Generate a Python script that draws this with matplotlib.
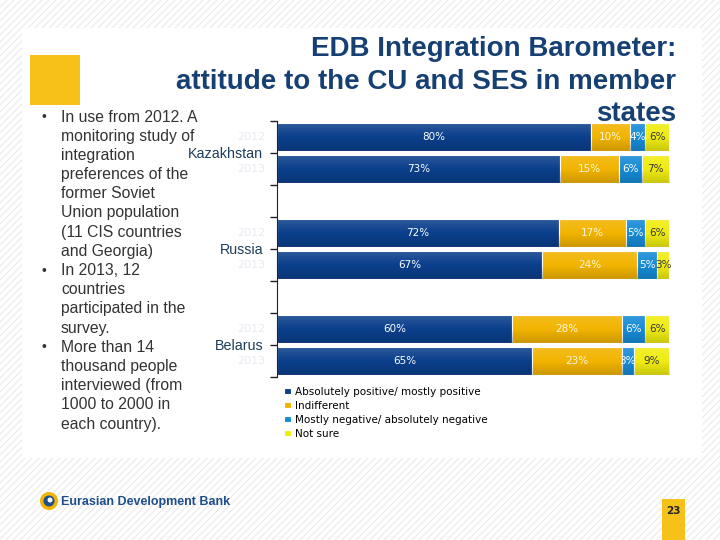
import matplotlib
matplotlib.use("Agg")
import matplotlib.pyplot as plt
from matplotlib.patches import Rectangle, Circle
import numpy as np

# ---- data ----
countries = ["Kazakhstan", "Russia", "Belarus"]
years = ["2012", "2013"]
positive = [80, 73, 72, 67, 60, 65]
indifferent = [10, 15, 17, 24, 28, 23]
negative = [4, 6, 5, 5, 6, 3]
not_sure = [6, 7, 6, 3, 6, 9]
series_names = ["Absolutely positive/ mostly positive", "Indifferent",
                "Mostly negative/ absolutely negative", "Not sure"]
title_lines = ["EDB Integration Barometer:", "attitude to the CU and SES in member", "states"]
bullets = [
    ["In use from 2012. A", "monitoring study of", "integration", "preferences of the",
     "former Soviet", "Union population", "(11 CIS countries", "and Georgia)"],
    ["In 2013, 12", "countries", "participated in the", "survey."],
    ["More than 14", "thousand people", "interviewed (from", "1000 to 2000 in",
     "each country)."],
]

colors = ["#0b3f8c", "#f2b400", "#168bd6", "#f0ec10"]
label_colors = ["white", "#fff6d8", "white", "#333333"]

W, H = 720, 540
fig = plt.figure(figsize=(7.2, 5.4), dpi=100)

# ---- background (hatched page + white panel) ----
bg = fig.add_axes([0, 0, 1, 1], zorder=0)
bg.set_xlim(0, W)
bg.set_ylim(H, 0)
bg.axis("off")
for c in np.arange(-H, W + H, 7):
    bg.plot([c, c + H], [H, 0], color="#e9e9ee", lw=0.8, zorder=0)
bg.add_patch(Rectangle((22, 28), 680, 430, facecolor="white", edgecolor="none", zorder=1))
bg.add_patch(Rectangle((30, 55), 50, 50, facecolor="#f6c21a", edgecolor="none", zorder=2))

# title (one text per line)
for ty, line in zip([56, 89, 121], title_lines):
    bg.text(676, ty, line, ha="right", va="baseline", fontsize=20,
            fontweight="bold", color="#163f73", family="Liberation Sans", zorder=5)

# bullet text
y = 117
for block in bullets:
    bg.text(41, y, "•", ha="left", va="center", fontsize=10, color="#333333",
            family="Liberation Sans", zorder=5)
    for line in block:
        bg.text(61, y, line, ha="left", va="center", fontsize=11.3,
                color="#333333", family="Liberation Sans", zorder=5)
        y += 19.2

# footer logo
bg.add_patch(Circle((49, 501), 9, facecolor="#f2b400", edgecolor="none", zorder=3))
bg.add_patch(Circle((49, 501), 5.5, facecolor="#1f4e8c", edgecolor="none", zorder=4))
bg.add_patch(Circle((50, 500), 2.5, facecolor="white", edgecolor="none", zorder=4))
bg.text(61, 502, "Eurasian Development Bank", ha="left", va="center", fontsize=9,
        fontweight="bold", color="#1f4e8c", family="Liberation Sans", zorder=5)
bg.add_patch(Rectangle((662, 499), 23, 41, facecolor="#f6c21a", edgecolor="none", zorder=3))
bg.text(673.5, 511, "23", ha="center", va="center", fontsize=7.5, fontweight="bold",
        color="#222222", zorder=5)

# ---- chart ----
left, right, top, bottom = 277, 669, 121, 377
ax = fig.add_axes([left / W, 1 - bottom / H, (right - left) / W, (bottom - top) / H],
                  zorder=2)
ax.patch.set_alpha(0)

rows = [0.5, 1.5, 3.5, 4.5, 6.5, 7.5]
data = np.array([positive, indifferent, negative, not_sure], dtype=float)
totals = data.sum(axis=0)
shares = data / totals * 100

# vertical shading overlay (light top, darker bottom)
grad = np.zeros((64, 1, 4))
t = np.linspace(0, 1, 64)
grad[:, 0, :3] = np.where(t[:, None] < 0.5, 1.0, 0.0)
grad[:, 0, 3] = np.where(t < 0.5, 0.14 * (1 - t / 0.5), 0.16 * (t - 0.5) / 0.5)

lefts = np.zeros(len(rows))
for i in range(4):
    bars = ax.barh(rows, shares[i], left=lefts, height=0.875, color=colors[i],
                   edgecolor="white", linewidth=0.8, label=series_names[i])
    for p in bars.patches:
        x0, y0 = p.get_x(), p.get_y()
        im = ax.imshow(grad, extent=(x0, x0 + p.get_width(), y0 + p.get_height(), y0),
                       aspect="auto", interpolation="bilinear", zorder=2.5)
        im.set_clip_path(p)
    for j, r in enumerate(rows):
        ax.text(lefts[j] + shares[i][j] / 2, r, f"{int(data[i][j])}%",
                ha="center", va="center", fontsize=7.5, color=label_colors[i], zorder=4)
    lefts += shares[i]

ax.set_xlim(0, 100)
ax.set_ylim(8, 0)
ax.set_aspect("auto")
ax.set_xticks([])
ax.set_yticks(range(9))
labels = [""] * 9
labels[1], labels[4], labels[7] = countries
ax.set_yticklabels(labels, fontsize=10.3, color="#1d3d5c", family="Liberation Sans")
ax.tick_params(axis="y", length=5, width=1, color="#222222", pad=5)
for s in ["top", "right", "bottom"]:
    ax.spines[s].set_visible(False)
ax.spines["left"].set_color("#222222")

# faint year labels
for j, r in enumerate(rows):
    ax.text(-3, r, years[j % 2], ha="right", va="center", fontsize=8,
            color="#e6eaf0", transform=ax.transData, clip_on=False)

ax.legend(loc="upper left", bbox_to_anchor=(0.0, -0.01), frameon=False,
          fontsize=7.5, handlelength=0.6, handleheight=0.6, handletextpad=0.4,
          labelspacing=0.38, borderaxespad=0.3)

fig.savefig("out.png", dpi=100)
